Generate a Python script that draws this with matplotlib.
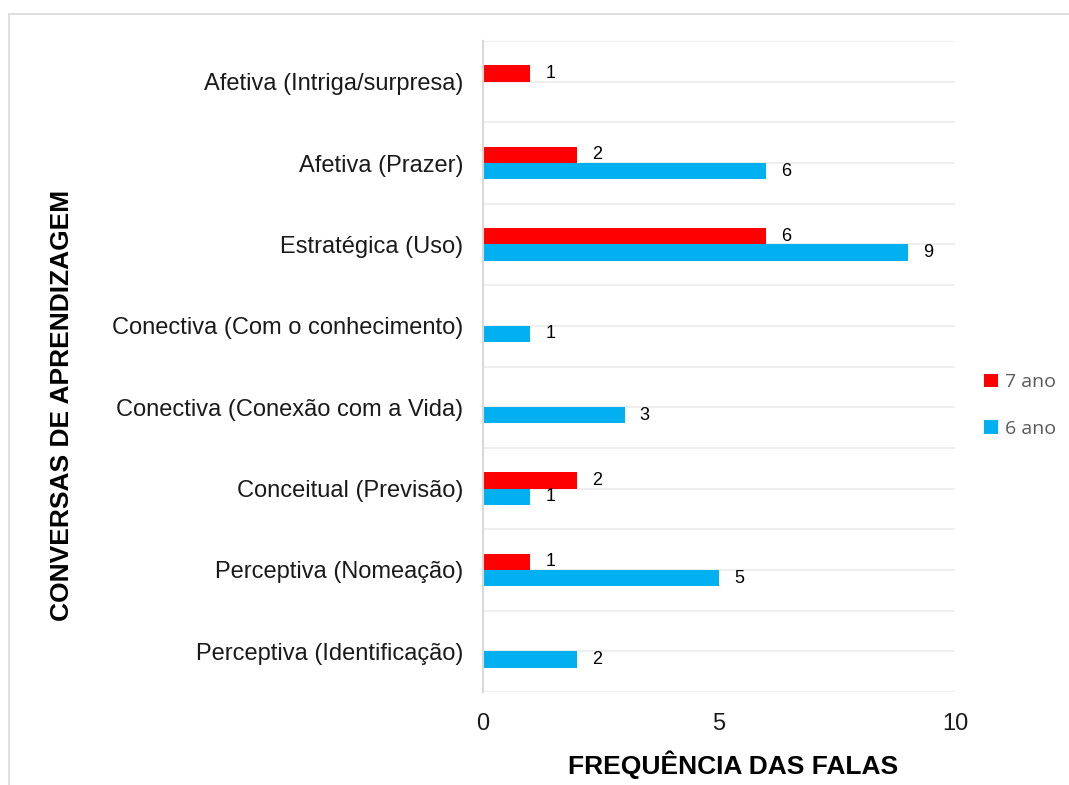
import numpy as np
import matplotlib.pyplot as plt
from matplotlib.patches import Rectangle

plt.rcParams["font.family"] = ["Liberation Sans", "DejaVu Sans"]

# categories from bottom to top
categories = ["Perceptiva (Identificação)", "Perceptiva (Nomeação)", "Conceitual (Previsão)",
              "Conectiva (Conexão com a Vida)", "Conectiva (Com o conhecimento)",
              "Estratégica (Uso)", "Afetiva (Prazer)", "Afetiva (Intriga/surpresa)"]
ano7 = [np.nan, 1, 2, np.nan, np.nan, 6, 2, 1]
ano6 = [2, 5, 1, 3, 1, 9, 6, np.nan]
series_names = ["7 ano", "6 ano"]
colors = ["#FF0000", "#00B0F0"]

fig = plt.figure(figsize=(10.69, 7.85), dpi=100)
ax = fig.add_axes([483 / 1069, 1 - 692 / 785, 472 / 1069, 651 / 785])

# outer chart border
fig.patches.append(Rectangle((9 / 1069, -0.1), 1.2, 1 - 14 / 785 + 0.1, transform=fig.transFigure,
                             fill=False, edgecolor="#D9D9D9", linewidth=1.2))

y = np.arange(len(categories))
h = 0.2
ax.barh(y + h / 2, np.nan_to_num(ano7), height=h, color=colors[0], label=series_names[0])
ax.barh(y - h / 2, np.nan_to_num(ano6), height=h, color=colors[1], label=series_names[1])

for i in range(len(categories)):
    if not np.isnan(ano7[i]):
        ax.text(ano7[i] + 0.32, y[i] + h / 2, f"{ano7[i]:g}", va="center", ha="left", fontsize=13, color="#000000")
    if not np.isnan(ano6[i]):
        ax.text(ano6[i] + 0.32, y[i] - h / 2, f"{ano6[i]:g}", va="center", ha="left", fontsize=13, color="#000000")

# gridlines every half category
for g in np.arange(-0.5, len(categories), 0.5):
    ax.axhline(g, color="#EBEBEB", linewidth=1.2, zorder=0)

ax.set_xlim(0, 10)
ax.set_ylim(-0.5, len(categories) - 0.5)
ax.set_xticks([0, 5, 10])
ax.set_yticks(y)
ax.set_yticklabels(categories, fontsize=17, color="#1a1a1a")
ax.tick_params(axis="x", labelsize=17, length=0, pad=15, colors="#1a1a1a")
ax.tick_params(axis="y", length=0, pad=14)
for s in ["top", "right", "bottom"]:
    ax.spines[s].set_visible(False)
ax.spines["left"].set_color("#D9D9D9")
ax.spines["left"].set_linewidth(1.5)

fig.text(62 / 1069, 1 - 405 / 785, "CONVERSAS DE APRENDIZAGEM", rotation=90, ha="center", va="center",
         fontsize=19, fontweight="bold", color="#000000")
fig.text(733 / 1069, 1 - 765 / 785, "FREQUÊNCIA DAS FALAS", ha="center", va="center",
         fontsize=19, fontweight="bold", color="#000000")

leg = ax.legend(loc="center left", bbox_to_anchor=(1.025, 0.44), frameon=False,
                prop={"family": "Open Sans", "size": 14}, handlelength=0.7, handleheight=0.7,
                handletextpad=0.35, labelspacing=1.45)
for t in leg.get_texts():
    t.set_color("#595959")

fig.savefig("out.png", dpi=100)
